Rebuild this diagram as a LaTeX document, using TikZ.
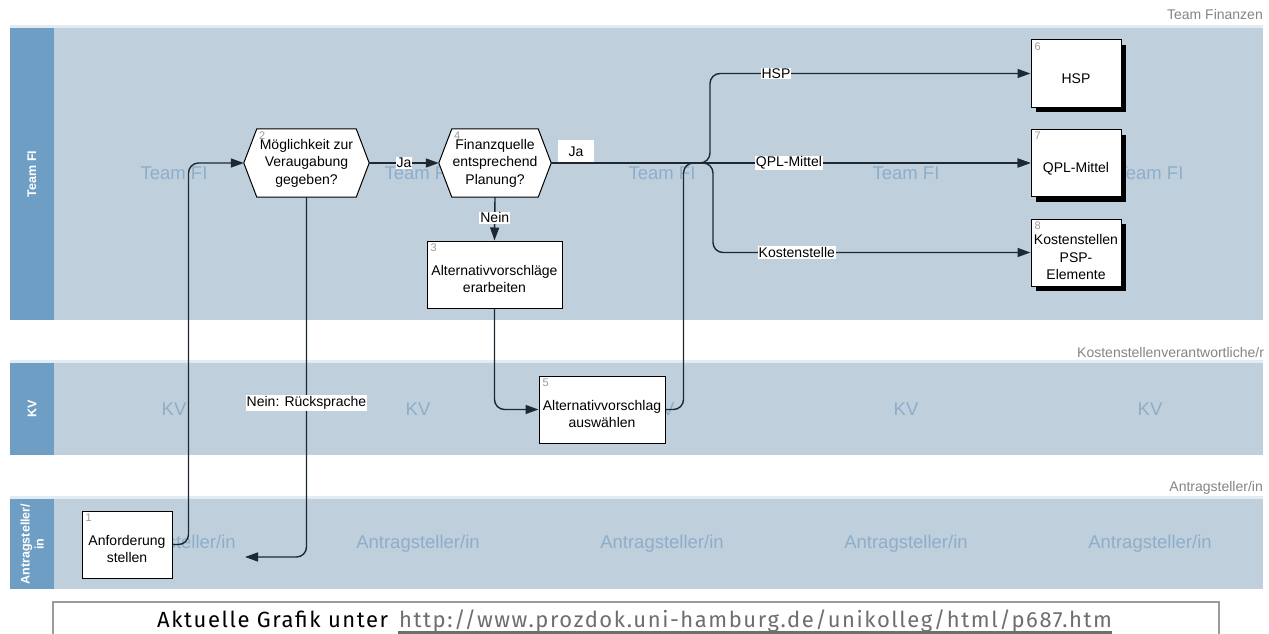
\documentclass[tikz,border=0pt]{standalone}
\usepackage{fontspec}
\setmainfont{Liberation Sans}
\newfontfamily\footfont[LetterSpace=7.1]{Fira Sans}
\usetikzlibrary{arrows.meta,shadows,calc}
\pgfdeclarelayer{lanes}
\pgfdeclarelayer{hexl}
\pgfsetlayers{lanes,hexl,main}
\definecolor{lanebody}{HTML}{BFCFDC}
\definecolor{lanehead}{HTML}{6E9EC3}
\definecolor{lanetop}{HTML}{E2EBF2}
\definecolor{wmc}{HTML}{8DAECB}
\definecolor{edgec}{HTML}{1E2833}
\definecolor{numc}{HTML}{9A9A9A}
\definecolor{captc}{HTML}{858585}
\definecolor{urlc}{HTML}{6E6E6E}
\definecolor{footc}{HTML}{9A9A9A}
\newcommand{\lowtext}[1]{\raisebox{-6pt}[\height][\depth]{\begin{tabular}{@{}c@{}}#1\end{tabular}}}
\begin{document}
\begin{tikzpicture}[x=1pt,y=-1pt,
  flow/.style={draw=edgec, line width=1.4pt, -{Triangle[length=13pt,width=9pt]}, rounded corners=10pt},
  box/.style={draw=black, fill=white, line width=1pt, inner sep=0pt, font=\fontsize{14}{17.5}\selectfont},
  sbox/.style={box, drop shadow={shadow xshift=5pt, shadow yshift=-5pt, fill=black, opacity=1}},
  hexn/.style={inner sep=0pt, align=center, font=\fontsize{14}{17.5}\selectfont},
  elabel/.style={sharp corners, draw=none, fill=white, inner sep=1pt, font=\fontsize{14}{16}\selectfont, text=black},
  num/.style={font=\fontsize{11}{11}\selectfont, text=numc, anchor=north west, inner sep=0pt},
  wmark/.style={font=\fontsize{18.5}{20}\selectfont, text=wmc},
  head/.style={font=\bfseries\fontsize{12.5}{14}\selectfont, text=white, rotate=90, align=center},
  lanecap/.style={font=\fontsize{14}{16}\selectfont, text=captc, inner sep=0pt}
]
\useasboundingbox (0,0) rectangle (1269,634);
\begin{pgfonlayer}{lanes}
\fill[white] (0,0) rectangle (1269,634);
% lanes
\fill[lanetop] (10,25) rectangle (1263,28);
\fill[lanebody] (54,28) rectangle (1263,320);
\fill[lanehead] (10,28) rectangle (54,320);
\fill[lanetop] (10,360) rectangle (1263,363);
\fill[lanebody] (54,363) rectangle (1263,455);
\fill[lanehead] (10,363) rectangle (54,455);
\fill[lanetop] (10,496) rectangle (1263,499);
\fill[lanebody] (54,499) rectangle (1263,589);
\fill[lanehead] (10,499) rectangle (54,589);
% watermarks
\foreach \i/\xx in {1/174,2/418,3/662,4/906,5/1150}{
  \node[wmark] (wt\i) at (\xx,173) {Team FI};
  \node[wmark] (wk\i) at (\xx,409) {KV};
  \node[wmark] (wa\i) at (\xx,544) {Antragsteller/in};
}
\end{pgfonlayer}
% lane captions and headers
\node[lanecap, anchor=east] (capT) at (1263,14) {Team Finanzen};
\node[lanecap, anchor=west] (capK) at (1077,352) {Kostenstellenverantwortliche/r};
\node[lanecap, anchor=east] (capA) at (1263,488) {Antragsteller/in};
\node[head] (hT) at (32,174) {Team FI};
\node[head] (hK) at (32,409) {KV};
\node[head] (hA) at (32,544) {Antragsteller/\\in};
% process nodes
\node[box, minimum width=90pt, minimum height=67pt] (b1) at (127,544.5) {\lowtext{Anforderung\\stellen}};
\node[hexn, minimum width=125pt, minimum height=68pt] (h2) at (306.5,163) {Möglichkeit zur\\Veraugabung\\gegeben?};
\node[hexn, minimum width=112pt, minimum height=68pt] (h4) at (495,163) {Finanzquelle\\entsprechend\\Planung?};
\node[box, minimum width=135pt, minimum height=67pt] (b3) at (494.5,274.5) {\lowtext{Alternativvorschläge\\erarbeiten}};
\node[box, minimum width=126pt, minimum height=67pt] (b5) at (602,409.5) {\lowtext{Alternativvorschlag\\auswählen}};
\node[sbox, minimum width=90pt, minimum height=67pt] (b6) at (1076,73.5) {\lowtext{HSP}};
\node[sbox, minimum width=90pt, minimum height=67pt] (b7) at (1076,163) {\lowtext{QPL-Mittel}};
\node[sbox, minimum width=90pt, minimum height=67pt] (b8) at (1076,252.5) {\lowtext{Kostenstellen\\PSP-\\Elemente}};
\begin{pgfonlayer}{hexl}
\foreach \h in {h2,h4}{
  \draw[fill=white, line width=1pt, line join=miter] (\h.west) -- ($(\h.north west)+(13,0)$) -- ($(\h.north east)+(-13,0)$) -- (\h.east) -- ($(\h.south east)+(-13,0)$) -- ($(\h.south west)+(13,0)$) -- cycle;
}
\end{pgfonlayer}
% numbers
\node[num] (n1) at ($(b1.north west)+(4,3)$) {1};
\node[num] (n2) at ($(h2.north west)+(15,3)$) {2};
\node[num] (n3) at ($(b3.north west)+(4,3)$) {3};
\node[num] (n4) at ($(h4.north west)+(15,3)$) {4};
\node[num] (n5) at ($(b5.north west)+(4,3)$) {5};
\node[num] (n6) at ($(b6.north west)+(4,3)$) {6};
\node[num] (n7) at ($(b7.north west)+(4,3)$) {7};
\node[num] (n8) at ($(b8.north west)+(4,3)$) {8};
% connectors
\coordinate (ret) at (245,557);
\coordinate (jH) at (710,163);
\coordinate (jK) at (713,163);
\draw[flow] (b1.east) -- ++(16,0) |- (h2.west);
\draw[flow] (h2.east) -- node[elabel]{Ja} (h4.west);
\draw[flow] (h2.south) |- node[elabel, pos=0.286]{Nein: Rücksprache} (ret);
\draw[flow] (h4.south) -- node[elabel, pos=0.48]{Nein} (b3.north);
\draw[flow] (b3.south) |- (b5.west);
\draw[flow] (b5.east) -- ++(18,0) |- (b7.west);
\draw[flow] (h4.east) -- node[elabel, pos=0.0125, anchor=south west, minimum width=36pt, minimum height=22pt]{Ja} node[elabel, pos=0.496]{QPL-Mittel} (b7.west);
\draw[flow] (h4.east) -- (jH) |- node[elabel, pos=0.603]{HSP} (b6.west);
\draw[flow] (h4.east) -- (jK) |- node[elabel, pos=0.632]{Kostenstelle} (b8.west);
% footer
\node[draw=footc, line width=2pt, minimum width=1166pt, minimum height=44pt, anchor=north west, inner sep=0pt] (footbox) at (52,601) {};
\node[anchor=base west, inner sep=0pt, font=\footfont\fontsize{22}{24}\selectfont] (fA) at (157,627) {Aktuelle Grafik unter};
\node[anchor=base west, inner sep=0pt, font=\footfont\fontsize{22}{24}\selectfont, text=urlc] (fB) at (399,627) {http://www.prozdok.uni-hamburg.de/unikolleg/html/p687.htm};
\draw[draw=urlc, line width=3pt] ($(fB.base west)+(-1,5.5)$) -- ($(fB.base east)+(0,5.5)$);
\end{tikzpicture}
\end{document}
